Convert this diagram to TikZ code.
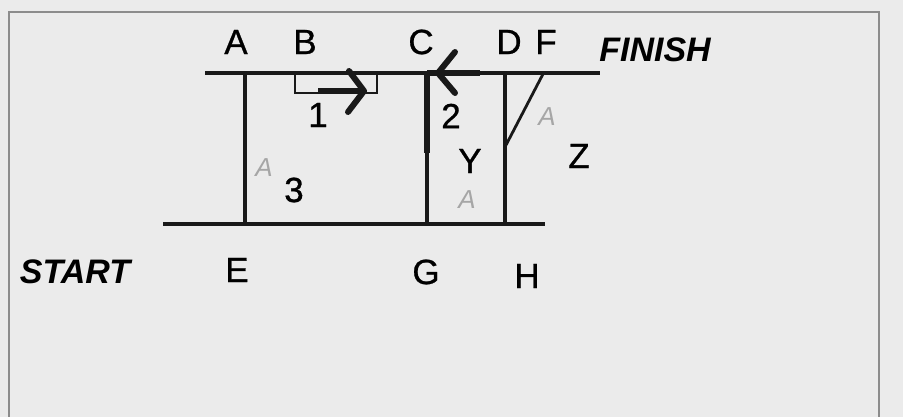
\documentclass[tikz,border=0pt]{standalone}
\usepackage{fontspec}
\setmainfont{Liberation Sans}
\newfontfamily\labelfont[FakeBold=0.8]{Liberation Sans}
\begin{document}
\begin{tikzpicture}[x=1pt,y=-1pt,
  lbl/.style={font=\labelfont\fontsize{35}{35}\selectfont, inner sep=0pt, anchor=center},
  biglbl/.style={font=\fontsize{34}{34}\selectfont\bfseries\itshape, inner sep=0pt, anchor=center},
  pencil/.style={font=\fontsize{26}{26}\selectfont\itshape, text=black!35, inner sep=0pt},
  ln/.style={line width=3.2pt, black!90},
  thick line/.style={line width=6.5pt, black!90},
  chev/.style={line width=6pt, black!90, line cap=round, line join=round}]
\useasboundingbox (0,0) rectangle (903,417);
\fill[black!8] (0,0) rectangle (903,417);
\draw[black!45, line width=1.5pt] (9,425) -- (9,12) -- (879,12) -- (879,425);
% coordinates
\coordinate (t0) at (205,73);
\coordinate (t1) at (600,73);
\coordinate (b0) at (163,224);
\coordinate (b1) at (545,224);
\coordinate (at) at (245,73);
\coordinate (ab) at (245,224);
\coordinate (ct) at (427,73);
\coordinate (cm) at (427,153);
\coordinate (cb) at (427,224);
\coordinate (dt) at (505,73);
\coordinate (dm) at (505,147);
\coordinate (db) at (505,224);
\coordinate (ft) at (543,74);
\coordinate (r0) at (295,73);
\coordinate (r1) at (295,93);
\coordinate (r2) at (377,93);
\coordinate (r3) at (377,73);
\coordinate (s1a) at (318,91);
\coordinate (s1b) at (364,91);
\coordinate (s1u) at (349,71);
\coordinate (s1l) at (348,112);
\coordinate (s2a) at (480,73);
\coordinate (s2b) at (438,73);
\coordinate (s2u) at (455,52);
\coordinate (s2l) at (455,93);
% lines
\draw[ln] (t0) -- (t1);
\draw[ln] (b0) -- (b1);
\draw[ln] (at) -- (ab);
\draw[ln] (ct) -- (cb);
\draw[ln] (dt) -- (db);
\draw[line width=2.8pt, black!90] (dm) -- (ft);
\draw[line width=2.2pt, black!90] (r0) -- (r1) -- (r2) -- (r3);
\draw[thick line] (ct) -- (cm);
% arrow 1
\draw[chev, line cap=butt] (s1a) -- (s1b);
\draw[chev] (s1u) -- (s1b) -- (s1l);
% arrow 2
\draw[chev, line cap=butt] (s2a) -- (427,73);
\draw[chev] (s2u) -- (s2b) -- (s2l);
% labels
\node[lbl] (A) at (236,42) {A};
\node[lbl] (B) at (305,42) {B};
\node[lbl] (C) at (421,42) {C};
\node[lbl] (D) at (509,42) {D};
\node[lbl] (F) at (546,42) {F};
\node[biglbl] (finish) at (655,50) {FINISH};
\node[biglbl] (start) at (75,272) {START};
\node[lbl] (E) at (237,270) {E};
\node[lbl] (G) at (426,272) {G};
\node[lbl] (H) at (527,276) {H};
\node[lbl] (n1) at (318,115) {1};
\node[lbl] (n2) at (451,116) {2};
\node[lbl] (n3) at (294,190) {3};
\node[lbl] (Y) at (470,161) {Y};
\node[lbl] (Z) at (579,156) {Z};
\node[pencil] (p1) at (264,168) {A};
\node[pencil] (p2) at (467,200) {A};
\node[pencil] (p3) at (547,117) {A};
\end{tikzpicture}
\end{document}
